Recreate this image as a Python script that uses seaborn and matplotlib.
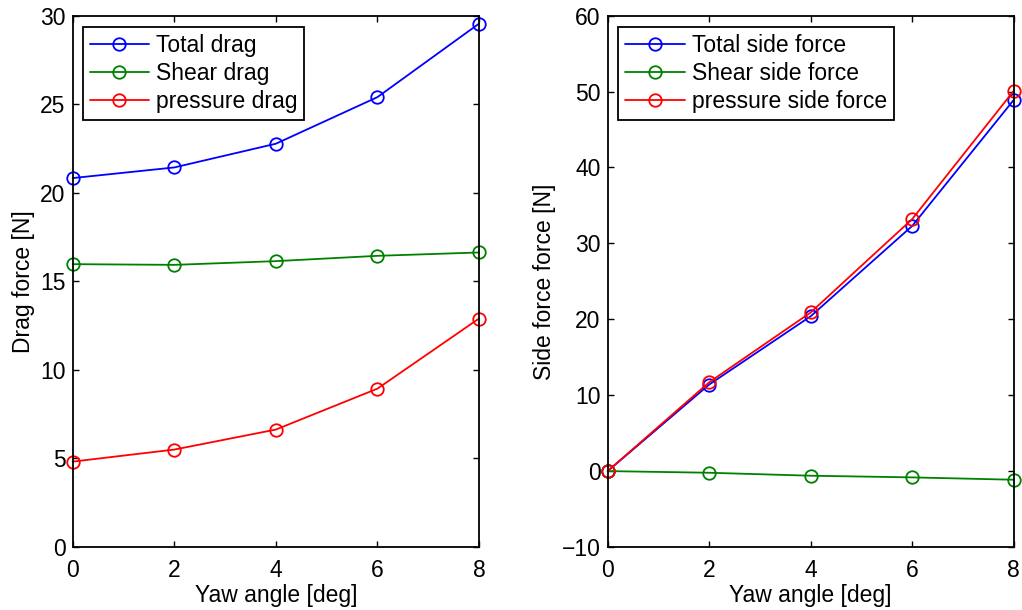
import numpy as np
import pandas as pd
import seaborn as sns
import matplotlib
matplotlib.use("Agg")
import matplotlib.pyplot as plt

yaw = [0, 2, 4, 6, 8]
total_drag = [20.83, 21.43, 22.77, 25.40, 29.55]
shear_drag = [15.97, 15.93, 16.14, 16.44, 16.63]
pressure_drag = [4.82, 5.50, 6.63, 8.94, 12.90]

total_side = [0.0, 11.4, 20.4, 32.3, 48.9]
shear_side = [0.0, -0.22, -0.61, -0.83, -1.14]
pressure_side = [0.0, 11.7, 20.9, 33.2, 50.1]

drag_labels = ["Total drag", "Shear drag", "pressure drag"]
side_labels = ["Total side force", "Shear side force", "pressure side force"]
colors = ["#0000ff", "#008000", "#ff0000"]

FS = 16.5

sns.set_style("ticks")
plt.rcParams["font.family"] = ["Liberation Sans", "DejaVu Sans"]
plt.rcParams["font.size"] = FS
plt.rcParams["text.color"] = "black"
plt.rcParams["axes.labelcolor"] = "black"
plt.rcParams["xtick.color"] = "black"
plt.rcParams["ytick.color"] = "black"

fig = plt.figure(figsize=(10.22, 6.10), dpi=100)
ax1 = fig.add_axes([0.0711, 0.1033, 0.3976, 0.871])
ax2 = fig.add_axes([0.5946, 0.1033, 0.3973, 0.871])


def draw(ax, series, labels, ylim, yticks, ylabel, legend_x):
    handles = []
    for vals, lab, col in zip(series, labels, colors):
        df = pd.DataFrame({"x": yaw, "y": vals})
        sns.lineplot(data=df, x="x", y="y", ax=ax, color=col, marker="o",
                     legend=False, linewidth=1.3, markersize=9)
        line = ax.lines[-1]
        line.set_markerfacecolor("none")
        line.set_markeredgecolor(col)
        line.set_markeredgewidth(1.3)
        line.set_label(lab)
        line.set_clip_on(False)
        handles.append(line)
    ax.set_xlim(0, 8)
    ax.set_ylim(*ylim)
    ax.set_xticks([0, 2, 4, 6, 8])
    ax.set_yticks(yticks)
    ax.set_yticklabels([str(t).replace("-", "\u2212") for t in yticks])
    ax.set_xlabel("Yaw angle [deg]", fontsize=FS, labelpad=1, color="black")
    ax.set_ylabel(ylabel, fontsize=FS, labelpad=4, color="black")
    ax.tick_params(direction="in", length=4, width=1.0, top=True, right=True,
                   labelsize=FS, colors="black")
    ax.tick_params(axis="x", pad=9)
    ax.tick_params(axis="y", pad=5)
    for sp in ax.spines.values():
        sp.set_visible(True)
        sp.set_linewidth(1.3)
        sp.set_color("black")
    leg = ax.legend(handles=handles, loc="upper left",
                    bbox_to_anchor=(legend_x, 0.979), borderaxespad=0,
                    fancybox=False, framealpha=1, edgecolor="black",
                    handlelength=2.6, handletextpad=0.3, labelspacing=0.22,
                    borderpad=0.3, fontsize=FS)
    for t in leg.get_texts():
        t.set_color("black")
    leg.get_frame().set_linewidth(1.3)


draw(ax1, [total_drag, shear_drag, pressure_drag], drag_labels, (0, 30),
     [0, 5, 10, 15, 20, 25, 30], "Drag force [N]", 0.0246)
draw(ax2, [total_side, shear_side, pressure_side], side_labels, (-10, 60),
     [-10, 0, 10, 20, 30, 40, 50, 60], "Side force force [N]", 0.026)

fig.savefig("out.png", dpi=100)
